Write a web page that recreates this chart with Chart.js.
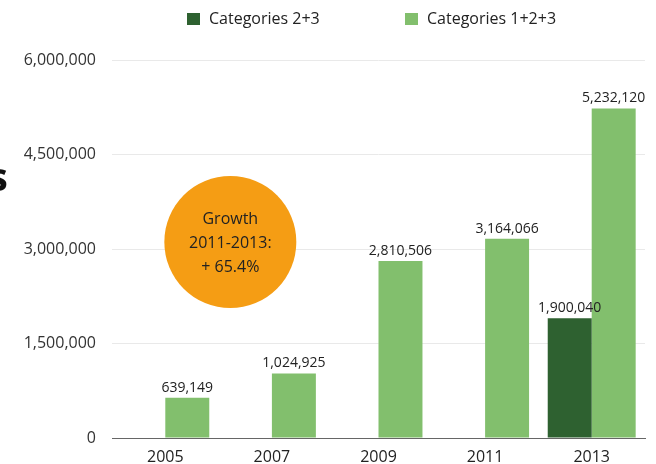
<!DOCTYPE html>
<html lang="en">
<head>
    <meta charset="UTF-8">
    <title>Categories 2+3 vs 1+2+3</title>
    <style>
        html, body { margin: 0; padding: 0; background: #fff; }
        .chart-container { width: 656px; height: 464px; }
    </style>
</head>
<body>
    <div class="chart-container">
        <canvas id="barChart" width="656" height="464"></canvas>
    </div>

    <script src="https://cdn.jsdelivr.net/npm/chart.js"></script>
    <script>
        // Data
        const years = ['2005', '2007', '2009', '2011', '2013'];
        const cat23 = [null, null, null, null, 1900040];
        const cat123 = [639149, 1024925, 2810506, 3164066, 5232120];
        const yTicks = [0, 1500000, 3000000, 4500000, 6000000];
        const growthText = ['Growth', '2011-2013:', '+ 65.4%'];

        const FONT = '"Open Sans", sans-serif';
        const fmt = v => v.toLocaleString('en-US');

        // Value labels above every bar
        const valueLabels = {
            id: 'valueLabels',
            afterDatasetsDraw(chart) {
                const ctx = chart.ctx;
                ctx.save();
                ctx.font = '14px ' + FONT;
                ctx.fillStyle = '#222';
                ctx.textAlign = 'center';
                ctx.textBaseline = 'bottom';
                chart.data.datasets.forEach((ds, i) => {
                    chart.getDatasetMeta(i).data.forEach((bar, j) => {
                        if (ds.data[j] == null) return;
                        ctx.fillText(fmt(ds.data[j]), bar.x, bar.y - 3);
                    });
                });
                ctx.restore();
            }
        };

        // Orange growth bubble, legend at top and the cut-off letter on the left
        const extras = {
            id: 'extras',
            afterDraw(chart) {
                const ctx = chart.ctx;
                const x = chart.scales.x, y = chart.scales.y;
                const cx = x.getPixelForValue(0) + 0.61 * (x.getPixelForValue(1) - x.getPixelForValue(0));
                const cy = y.getPixelForValue(3000000) - 7;
                ctx.save();
                ctx.beginPath();
                ctx.arc(cx, cy, 66, 0, Math.PI * 2);
                ctx.fillStyle = '#f59d14';
                ctx.fill();
                ctx.fillStyle = '#222';
                ctx.font = '16px ' + FONT;
                ctx.textAlign = 'center';
                ctx.textBaseline = 'middle';
                growthText.forEach((t, i) => ctx.fillText(t, cx, cy - 23 + i * 24));

                // legend
                ctx.font = '16px ' + FONT;
                ctx.textAlign = 'left';
                const legendX = [187, 405];
                chart.data.datasets.forEach((ds, i) => {
                    ctx.fillStyle = ds.backgroundColor;
                    ctx.fillRect(legendX[i], 13, 13, 12);
                    ctx.fillStyle = '#222';
                    ctx.fillText(ds.label, legendX[i] + 22, 19);
                });

                ctx.font = 'bold 40px ' + FONT;
                ctx.textAlign = 'right';
                ctx.fillStyle = '#111';
                ctx.fillText('s', 8, 180);
                ctx.restore();
            }
        };

        const ctx = document.getElementById('barChart').getContext('2d');
        new Chart(ctx, {
            type: 'bar',
            data: {
                labels: years,
                datasets: [{
                    label: 'Categories 2+3',
                    data: cat23,
                    backgroundColor: '#2e6130'
                }, {
                    label: 'Categories 1+2+3',
                    data: cat123,
                    backgroundColor: '#82bf6d'
                }]
            },
            options: {
                responsive: false,
                animation: false,
                layout: { padding: { top: 60, right: 11, left: 0, bottom: 0 } },
                datasets: {
                    bar: { barPercentage: 1, categoryPercentage: 0.825 }
                },
                plugins: {
                    legend: { display: false },
                    tooltip: { enabled: false }
                },
                scales: {
                    x: {
                        grid: { display: false, drawTicks: false },
                        border: { color: '#666', width: 1 },
                        ticks: { font: { family: FONT, size: 16 }, color: '#222', padding: 10 },
                        afterFit(scale) { scale.height = 26; }
                    },
                    y: {
                        min: 0,
                        max: 6000000,
                        afterBuildTicks(scale) { scale.ticks = yTicks.map(v => ({ value: v })); },
                        grid: { color: '#e9e9e9', drawTicks: false },
                        border: { display: false },
                        ticks: {
                            font: { family: FONT, size: 16 },
                            color: '#333',
                            padding: 16,
                            callback: v => fmt(v)
                        },
                        afterFit(scale) { scale.width = 112; }
                    }
                }
            },
            plugins: [valueLabels, extras]
        });
    </script>
</body>
</html>
